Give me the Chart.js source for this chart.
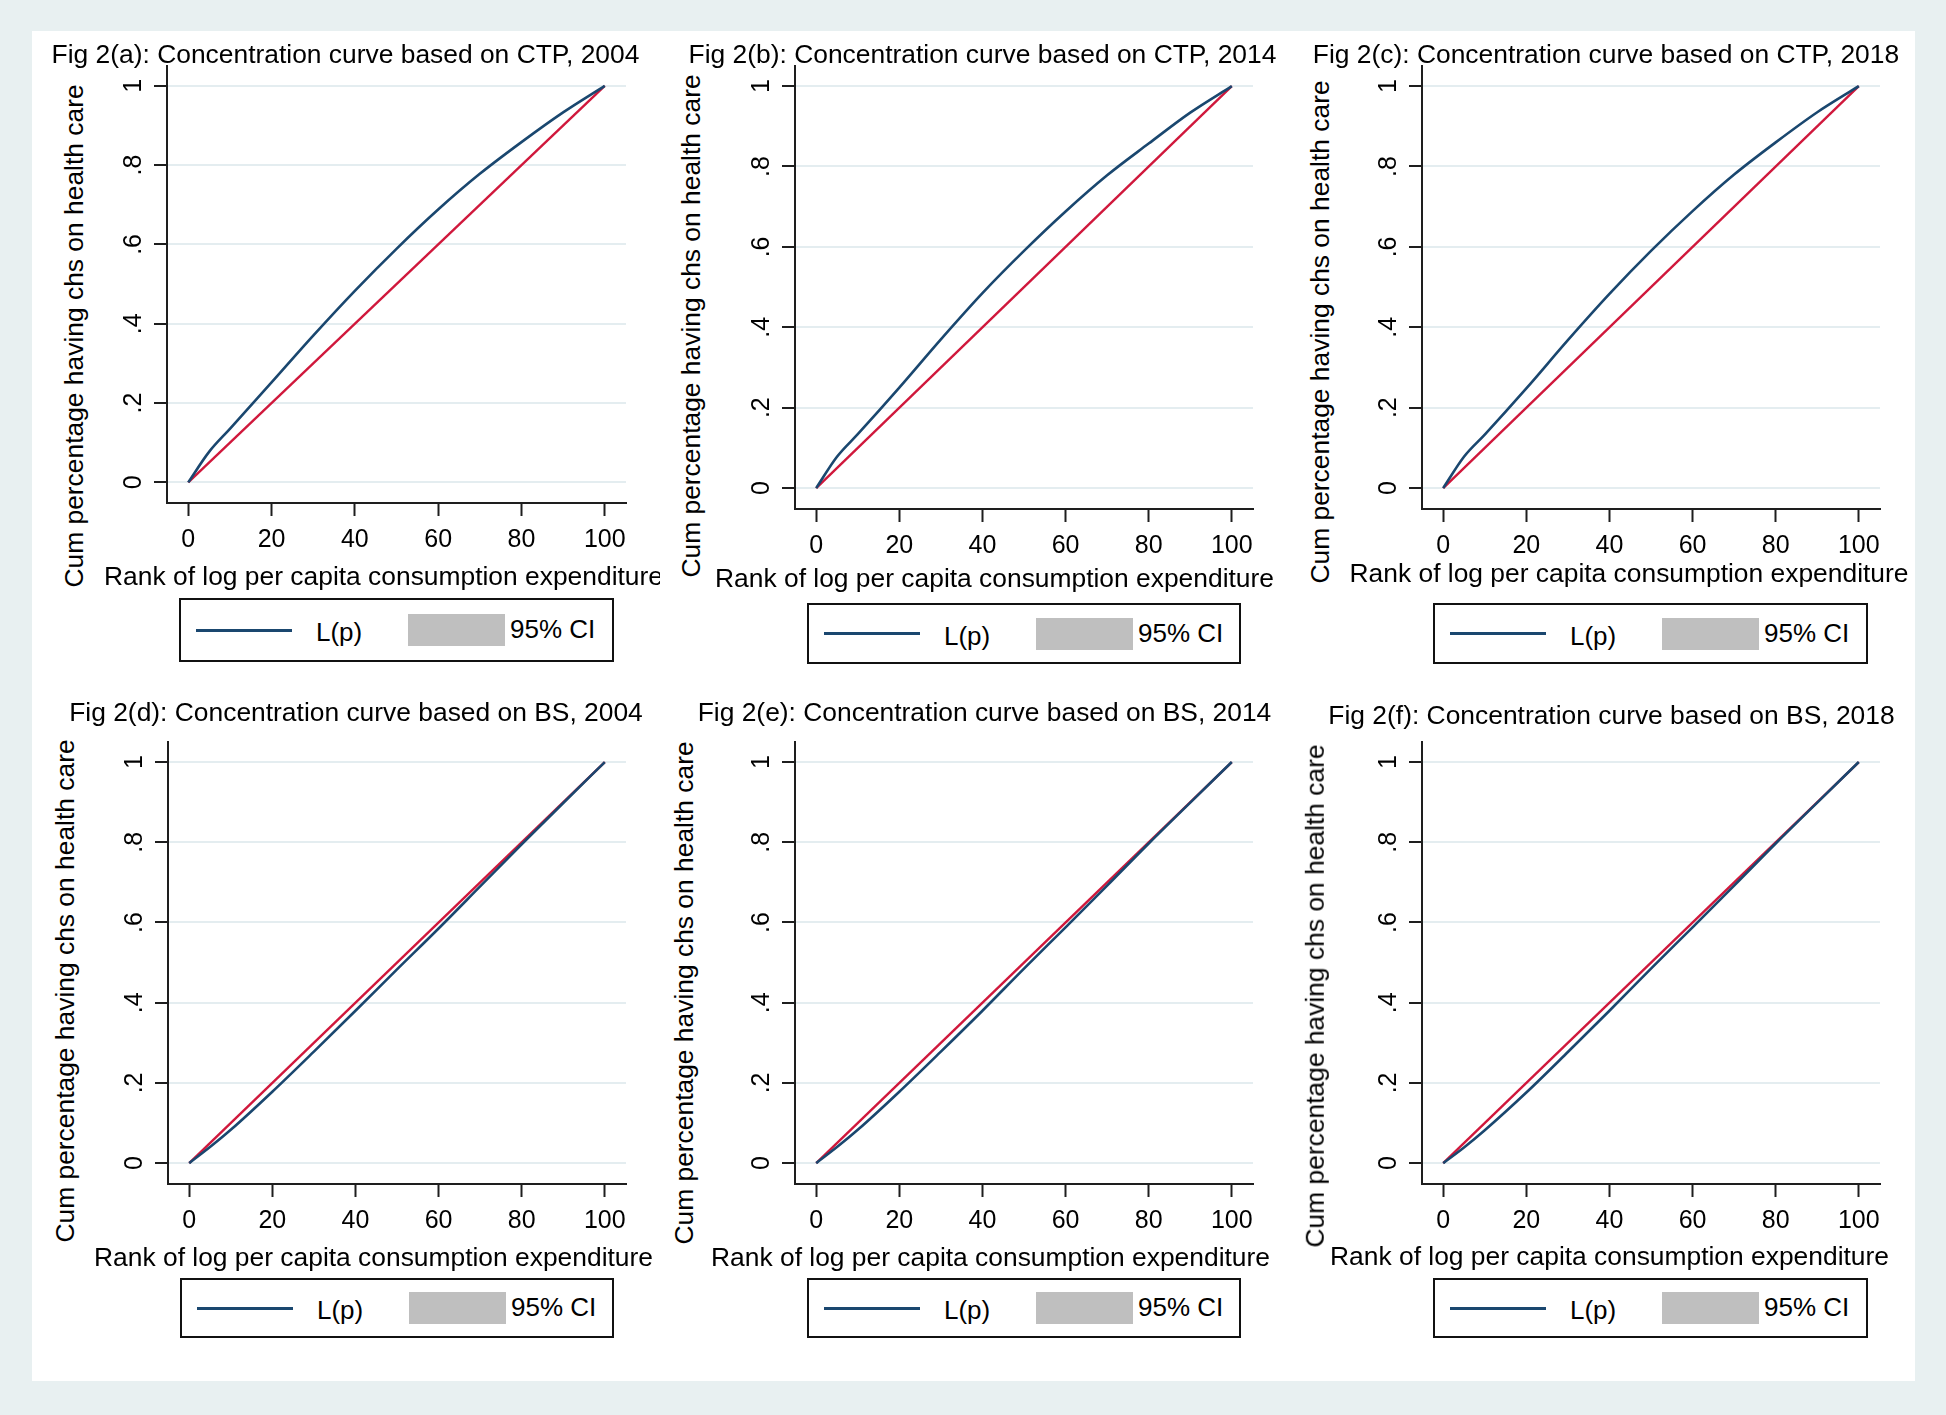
<!DOCTYPE html>
<html>
<head>
<meta charset="utf-8">
<title>Fig 2: Concentration curves, CTP and BS</title>
<script src="https://cdn.jsdelivr.net/npm/chart.js@4.4.1/dist/chart.umd.min.js"></script>
<style>
  html, body { margin: 0; padding: 0; }
  body {
    width: 1946px; height: 1415px; position: relative; overflow: hidden;
    background: #e8f0f1; color: #000;
    font-family: 'Liberation Sans', Arial, Helvetica, sans-serif;
  }
  #sheet { position: absolute; left: 32px; top: 31px; width: 1883px; height: 1350px; background: #fff; }
  .cell { position: absolute; overflow: hidden; }
  .cell canvas { position: absolute; }
  .txt { position: absolute; white-space: nowrap; font-size: 26.4px; line-height: 1; transform: translate(-50%, -50%); }
  .txt.rot { transform: translate(-50%, -50%) rotate(-90deg); }
  .legend { position: absolute; box-sizing: border-box; border: 2px solid #111; background: #fff; }
  .legend .key-line { position: absolute; height: 3px; background: #1a476f; }
  .legend .key-box { position: absolute; background: #bfbfbf; }
  .legend span { position: absolute; white-space: nowrap; font-size: 26px; line-height: 1; transform: translateY(-50%); }
</style>
</head>
<body>
<div id="sheet"></div>
<script>
// ── Data ────────────────────────────────────────────────────────────
var rankPct = [0, 5, 10, 20, 30, 40, 50, 60, 70, 80, 90, 100];

// L(p): cumulative share having CHS, by rank of log per capita consumption
var ctp2004 = [0, 0.077, 0.135, 0.252, 0.370, 0.483, 0.589, 0.688, 0.778, 0.858, 0.933, 1];
var ctp2014 = [0, 0.078, 0.134, 0.250, 0.370, 0.485, 0.590, 0.688, 0.778, 0.857, 0.934, 1];
var ctp2018 = [0, 0.078, 0.133, 0.248, 0.368, 0.483, 0.590, 0.689, 0.780, 0.860, 0.935, 1];
var bs2004 = [0, 0.040, 0.083, 0.178, 0.278, 0.380, 0.483, 0.585, 0.690, 0.795, 0.898, 1];
var bs2014 = [0, 0.040, 0.083, 0.178, 0.278, 0.380, 0.485, 0.588, 0.692, 0.797, 0.899, 1];
var bs2018 = [0, 0.039, 0.082, 0.176, 0.277, 0.380, 0.485, 0.588, 0.692, 0.797, 0.899, 1];

// line of equality
var equalityX = [0, 100];
var equalityY = [0, 1];

var xTicks = [0, 20, 40, 60, 80, 100];
var yTicks = [0, 0.2, 0.4, 0.6, 0.8, 1];
var yTickLabels = ['0', '.2', '.4', '.6', '.8', '1'];

var panelTitles = [
  'Fig 2(a): Concentration curve based on CTP, 2004',
  'Fig 2(b): Concentration curve based on CTP, 2014',
  'Fig 2(c): Concentration curve based on CTP, 2018',
  'Fig 2(d): Concentration curve based on BS, 2004',
  'Fig 2(e): Concentration curve based on BS, 2014',
  'Fig 2(f): Concentration curve based on BS, 2018'
];
var xAxisTitle = 'Rank of log per capita consumption expenditure';
var yAxisTitle = 'Cum percentage having chs on health care';
var legendLabels = ['L(p)', '95% CI'];

(function () {
  'use strict';

  var FONT = "'Liberation Sans', Arial, Helvetica, sans-serif";
  var NAVY = '#1a476f';
  var CRIMSON = '#d0183c';
  var AXIS = '#1e1e1e';

  // Layout of each graph in page pixels: cell [l, t, r, b], plot area [l, t, r, b],
  // text centres [x, y], legend [l, t, w, h]
  var PANELS = [
    { values: ctp2004, cell: [32, 31, 660, 690], plot: [167, 66, 626, 503],
      title: [345.5, 53.5], xTitle: [383.5, 576], yTitle: [74, 336], legend: [179, 598, 435, 64] },
    { values: ctp2014, cell: [660, 31, 1290, 690], plot: [795, 66, 1253, 509],
      title: [982.5, 53.5], xTitle: [994.5, 578], yTitle: [691, 325.5], legend: [807, 603, 434, 61] },
    { values: ctp2018, cell: [1290, 31, 1915, 690], plot: [1422, 66, 1880, 509],
      title: [1606, 53.5], xTitle: [1629, 572.5], yTitle: [1320, 332], legend: [1433, 603, 435, 61] },
    { values: bs2004, cell: [32, 690, 660, 1381], plot: [168, 742, 626, 1184],
      title: [356, 711.5], xTitle: [373.5, 1257], yTitle: [64.5, 991], legend: [180, 1278, 434, 60] },
    { values: bs2014, cell: [660, 690, 1290, 1381], plot: [795, 742, 1253, 1184],
      title: [984.5, 711.5], xTitle: [990.5, 1257], yTitle: [684, 993], legend: [807, 1278, 434, 60] },
    { values: bs2018, cell: [1290, 690, 1915, 1381], plot: [1422, 742, 1880, 1184],
      title: [1611.5, 715], xTitle: [1609.5, 1256], yTitle: [1315, 996], legend: [1433, 1278, 435, 60] }
  ];

  var Y_AXIS_W = 60, X_AXIS_H = 64, PAD_TOP = 30, PAD_RIGHT = 30;

  /** Zip two arrays into {x, y} points */
  function toPoints(xs, ys) {
    return xs.map(function (x, i) { return { x: x, y: ys[i] }; });
  }

  /** Absolutely placed text, centred on a page point */
  function addText(cell, text, pt, rotated) {
    var s = document.createElement('div');
    s.className = rotated ? 'txt rot' : 'txt';
    s.textContent = text;
    s.style.left = (pt[0] - cell[0]) + 'px';
    s.style.top = (pt[1] - cell[1]) + 'px';
    cell.node.appendChild(s);
  }

  /** Stata style legend box: line key, grey CI key */
  function addLegend(cell, box) {
    var lg = document.createElement('div');
    lg.className = 'legend';
    lg.style.left = (box[0] - cell[0]) + 'px';
    lg.style.top = (box[1] - cell[1]) + 'px';
    lg.style.width = box[2] + 'px';
    lg.style.height = box[3] + 'px';
    var mid = box[3] / 2 - 2;
    lg.innerHTML =
      '<div class="key-line" style="left:15px;width:96px;top:' + (mid - 1.5) + 'px"></div>' +
      '<span style="left:135px;top:' + (mid + 2) + 'px">' + legendLabels[0] + '</span>' +
      '<div class="key-box" style="left:227px;width:97px;top:' + (mid - 16) + 'px;height:32px"></div>' +
      '<span style="left:329px;top:' + (mid - 1) + 'px">' + legendLabels[1] + '</span>';
    cell.node.appendChild(lg);
  }

  /** Build one concentration-curve chart */
  function renderPanel(p, idx) {
    var c = p.cell;
    var node = document.createElement('div');
    node.className = 'cell';
    node.style.left = c[0] + 'px';
    node.style.top = c[1] + 'px';
    node.style.width = (c[2] - c[0]) + 'px';
    node.style.height = (c[3] - c[1]) + 'px';
    document.body.appendChild(node);
    var cell = [c[0], c[1]];
    cell.node = node;

    var plot = p.plot;
    var w = plot[2] - plot[0] + Y_AXIS_W + PAD_RIGHT;
    var h = plot[3] - plot[1] + PAD_TOP + X_AXIS_H;
    var canvas = document.createElement('canvas');
    canvas.width = w;
    canvas.height = h;
    canvas.style.width = w + 'px';
    canvas.style.height = h + 'px';
    canvas.style.left = (plot[0] - Y_AXIS_W - c[0]) + 'px';
    canvas.style.top = (plot[1] - PAD_TOP - c[1]) + 'px';
    node.appendChild(canvas);

    new Chart(canvas, {
      type: 'scatter',
      data: {
        datasets: [{
          label: legendLabels[0],
          data: toPoints(rankPct, p.values),
          borderColor: NAVY,
          borderWidth: 2.6,
          pointRadius: 0,
          showLine: true,
          cubicInterpolationMode: 'monotone',
          fill: false
        }, {
          label: 'Equality',
          data: toPoints(equalityX, equalityY),
          borderColor: CRIMSON,
          borderWidth: 2.4,
          pointRadius: 0,
          showLine: true,
          fill: false
        }]
      },
      options: {
        responsive: false,
        animation: false,
        devicePixelRatio: 1,
        layout: { padding: { top: PAD_TOP, right: PAD_RIGHT, left: 0, bottom: 0 } },
        plugins: { legend: { display: false }, tooltip: { enabled: false }, title: { display: false } },
        scales: {
          x: {
            type: 'linear', min: -5.1, max: 105.1,
            afterBuildTicks: function (s) { s.ticks = xTicks.map(function (v) { return { value: v }; }); },
            afterFit: function (s) { s.height = X_AXIS_H; },
            ticks: { color: '#000', font: { family: FONT, size: 25 }, padding: 9, minRotation: 0, maxRotation: 0, autoSkip: false },
            grid: { drawOnChartArea: false, tickLength: 13, tickWidth: 2, tickColor: AXIS },
            border: { display: true, color: AXIS, width: 2 }
          },
          y: {
            type: 'linear', min: -0.052, max: 1.05,
            afterBuildTicks: function (s) { s.ticks = yTicks.map(function (v) { return { value: v }; }); },
            afterFit: function (s) { s.width = Y_AXIS_W; },
            ticks: {
              color: '#000', font: { family: FONT, size: 25 }, padding: 9,
              minRotation: 90, maxRotation: 90, crossAlign: 'center', autoSkip: false,
              callback: function (v) { return yTickLabels[yTicks.indexOf(v)]; }
            },
            grid: { color: '#e4edf0', lineWidth: 2, tickLength: 13, tickWidth: 2, tickColor: AXIS },
            border: { display: true, color: AXIS, width: 2 }
          }
        }
      }
    });

    addText(cell, panelTitles[idx], p.title, false);
    addText(cell, xAxisTitle, p.xTitle, false);
    addText(cell, yAxisTitle, p.yTitle, true);
    addLegend(cell, p.legend);
  }

  PANELS.forEach(renderPanel);
})();
</script>
</body>
</html>
